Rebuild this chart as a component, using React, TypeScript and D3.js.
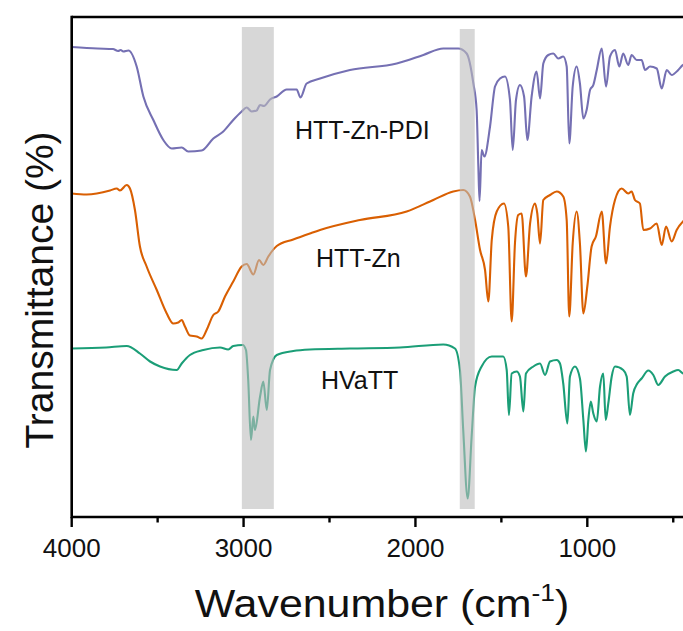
import React from "react";
import * as d3 from "d3";

// ---- data (wavenumber cm^-1, stacked transmittance a.u.) ----
const seriesNames = ["HTT-Zn-PDI", "HTT-Zn", "HVaTT"];
const seriesColors = ["#7570b3", "#d95f02", "#1b9e77"];

const httZnPdi: [number, number][] = [
  [4000, 94.0], [3850, 93.7], [3760, 93.6], [3730, 93.2], [3715, 93.4], [3700, 93.1], [3670, 93.3],
  [3622, 90.1], [3583, 84.1], [3525, 79.4], [3467, 75.4], [3418, 73.7], [3360, 73.9], [3322, 73.1],
  [3244, 73.3], [3176, 75.7], [3118, 77.1], [3060, 79.4], [3011, 81.1], [2982, 81.9], [2953, 81.1],
  [2924, 81.3], [2904, 82.4], [2881, 82.2], [2846, 83.5], [2807, 84.1], [2749, 85.5], [2691, 85.5],
  [2669, 83.9], [2633, 86.7], [2555, 87.7], [2381, 89.4], [2109, 90.7], [1954, 92.4], [1838, 93.7],
  [1751, 93.7], [1702, 92.7], [1663, 86.7], [1644, 81.4], [1634, 70.1], [1627, 63.2], [1615, 73.4],
  [1599, 72.1], [1566, 78.1], [1537, 86.1], [1508, 87.7], [1479, 88.1], [1450, 83.4], [1434, 73.4],
  [1415, 83.4], [1392, 86.4], [1368, 84.1], [1349, 75.4], [1324, 84.1], [1295, 89.1], [1275, 83.7],
  [1256, 90.7], [1227, 92.4], [1198, 92.7], [1169, 91.7], [1140, 92.1], [1120, 90.1], [1105, 74.7],
  [1085, 86.1], [1062, 90.1], [1043, 86.7], [1023, 79.7], [1004, 81.4], [984, 85.4], [965, 86.4],
  [945, 89.4], [916, 93.7], [891, 86.1], [868, 92.1], [839, 93.4], [814, 90.1], [791, 92.7],
  [762, 90.4], [742, 92.4], [713, 91.4], [684, 91.4], [664, 89.4], [635, 90.1], [596, 89.7],
  [567, 85.7], [538, 89.4], [509, 88.4], [471, 89.4], [443, 90.4], [400, 90.8],
];

const httZn: [number, number][] = [
  [4000, 64.7], [3913, 64.5], [3777, 65.3], [3738, 65.7], [3719, 65.3], [3680, 66.4], [3661, 65.7],
  [3632, 61.4], [3603, 54.1], [3564, 50.1], [3505, 45.4], [3447, 40.7], [3409, 38.7], [3380, 38.9],
  [3360, 39.4], [3341, 38.1], [3312, 36.3], [3273, 36.1], [3244, 35.7], [3215, 37.4], [3176, 40.4],
  [3147, 41.1], [3108, 44.1], [3060, 47.1], [3011, 50.1], [2982, 50.6], [2943, 48.5], [2910, 51.4],
  [2885, 50.4], [2856, 52.1], [2807, 54.2], [2711, 55.5], [2614, 56.7], [2555, 57.4], [2323, 59.4],
  [2051, 61.1], [1896, 63.4], [1780, 65.1], [1722, 65.4], [1683, 64.1], [1653, 59.4], [1624, 53.4],
  [1595, 49.4], [1576, 43.1], [1556, 55.4], [1527, 61.1], [1485, 62.7], [1460, 58.1], [1440, 39.1],
  [1421, 54.7], [1402, 60.4], [1382, 60.7], [1357, 48.1], [1333, 58.7], [1304, 62.7], [1291, 60.7],
  [1275, 54.7], [1256, 63.4], [1217, 64.4], [1178, 65.1], [1140, 64.1], [1120, 59.4], [1105, 40.1],
  [1085, 54.7], [1062, 61.1], [1043, 54.7], [1023, 40.7], [1000, 46.1], [975, 54.1], [950, 56.1],
  [916, 61.1], [891, 50.7], [868, 58.1], [839, 63.4], [800, 65.7], [762, 64.7], [742, 65.1],
  [723, 63.4], [694, 62.7], [674, 57.4], [635, 57.7], [596, 58.7], [567, 54.4], [542, 58.1],
  [509, 55.1], [480, 57.4], [443, 59.1], [400, 60.0],
];

const hvatt: [number, number][] = [
  [4000, 33.7], [3800, 33.9], [3680, 34.2], [3603, 32.7], [3544, 31.1], [3486, 30.1], [3389, 29.4],
  [3360, 30.7], [3312, 32.4], [3234, 33.4], [3137, 33.9], [3089, 33.5], [3060, 34.2], [3005, 34.4],
  [2986, 33.4], [2973, 27.4], [2957, 15.4], [2943, 20.1], [2934, 17.4], [2904, 24.1], [2885, 27.1],
  [2865, 21.4], [2846, 29.4], [2807, 32.4], [2711, 33.2], [2614, 33.5], [2381, 33.7], [2090, 33.9],
  [1838, 34.5], [1770, 33.7], [1741, 29.4], [1722, 17.4], [1696, 3.7], [1673, 16.1], [1653, 26.1],
  [1615, 30.1], [1556, 32.1], [1489, 32.1], [1469, 29.4], [1456, 20.4], [1440, 28.7], [1411, 29.1],
  [1392, 28.1], [1372, 21.1], [1357, 28.7], [1314, 30.1], [1275, 30.7], [1246, 28.4], [1217, 31.1],
  [1178, 31.4], [1159, 30.7], [1140, 26.7], [1116, 18.7], [1101, 28.1], [1072, 30.1], [1043, 27.7],
  [1023, 19.4], [1008, 13.1], [994, 19.4], [980, 23.1], [965, 20.7], [945, 19.1], [926, 26.1],
  [907, 28.7], [893, 19.4], [878, 22.7], [858, 28.1], [839, 30.1], [791, 29.4], [771, 28.1],
  [752, 20.4], [733, 24.7], [709, 26.7], [684, 27.7], [645, 29.3], [616, 28.4], [587, 26.4],
  [548, 28.1], [500, 29.1], [471, 29.4], [443, 28.7], [400, 28.5],
];

const seriesData = [httZnPdi, httZn, hvatt];
// label anchor points (wavenumber, value)
const labelPos: [number, number][] = [[2701, 75.6], [2579, 50.0], [2550, 25.6]];

// highlighted bands [from, to, top]
const bands: [number, number, number][] = [[3010, 2824, 98.0], [1742, 1655, 97.6]];

const majorTicks = [4000, 3000, 2000, 1000];
const minorTicks = [3500, 2500, 1500, 500];

const W = 683;
const H = 631;
const FONT = "'Liberation Sans', Arial, sans-serif";

export default function App() {
  const left = 71.7;
  const top = 17;
  const bottom = 517;
  const x = d3.scaleLinear().domain([4000, 400]).range([left, left + 3600 * 0.17187]);
  const y = d3.scaleLinear().domain([0, 100]).range([bottom, top]);
  const line = d3
    .line<[number, number]>()
    .curve(d3.curveMonotoneX)
    .x((d) => x(d[0]))
    .y((d) => y(d[1]));

  return (
    <svg
      width={W}
      height={H}
      style={{ position: "absolute", left: 0, top: 0, background: "#fff" }}
      fontFamily={FONT}
    >
      <defs>
        <clipPath id="plotclip">
          <rect x={left} y={top} width={x(400) - left} height={bottom - top} />
        </clipPath>
      </defs>
      <rect x={0} y={0} width={W} height={H} fill="#fff" />
      <g clipPath="url(#plotclip)">
        {seriesData.map((s, i) => (
          <path
            key={seriesNames[i]}
            d={line(s) || ""}
            fill="none"
            stroke={seriesColors[i]}
            strokeWidth={2.1}
            strokeLinejoin="round"
          />
        ))}
      </g>
      {bands.map((b, i) => (
        <rect
          key={i}
          x={x(b[0])}
          y={y(b[2])}
          width={x(b[1]) - x(b[0])}
          height={y(1.6) - y(b[2])}
          fill="#bdbdbd"
          fillOpacity={0.6}
        />
      ))}
      {/* frame */}
      <line x1={left} x2={W + 10} y1={top} y2={top} stroke="#000" strokeWidth={2.6} />
      <line x1={left} x2={W + 10} y1={bottom} y2={bottom} stroke="#000" strokeWidth={2.6} />
      <line x1={left} x2={left} y1={top - 1.3} y2={bottom + 1.3} stroke="#000" strokeWidth={2.6} />
      {majorTicks.map((t) => (
        <line key={t} x1={x(t)} x2={x(t)} y1={bottom} y2={bottom + 10} stroke="#000" strokeWidth={2.4} />
      ))}
      {minorTicks.map((t) => (
        <line key={t} x1={x(t)} x2={x(t)} y1={bottom} y2={bottom + 5.5} stroke="#000" strokeWidth={2.4} />
      ))}
      {majorTicks.map((t) => (
        <text key={t} x={x(t)} y={557} fontSize={26} textAnchor="middle" fill="#111">
          {t}
        </text>
      ))}
      {seriesNames.map((n, i) => (
        <text
          key={n}
          x={x(labelPos[i][0])}
          y={y(labelPos[i][1])}
          fontSize={25}
          fill="#111"
          textAnchor="start"
        >
          {n}
        </text>
      ))}
      <text
        transform="translate(382,617) scale(1.1,1)"
        fontSize={39}
        textAnchor="middle"
        fill="#111"
      >
        Wavenumber (cm
        <tspan fontSize={24} dy={-16}>-1</tspan>
        <tspan dy={16}>)</tspan>
      </text>
      <text
        transform={`translate(53,290) rotate(-90)`}
        fontSize={39}
        textAnchor="middle"
        fill="#111"
      >
        Transmittance (%)
      </text>
    </svg>
  );
}
